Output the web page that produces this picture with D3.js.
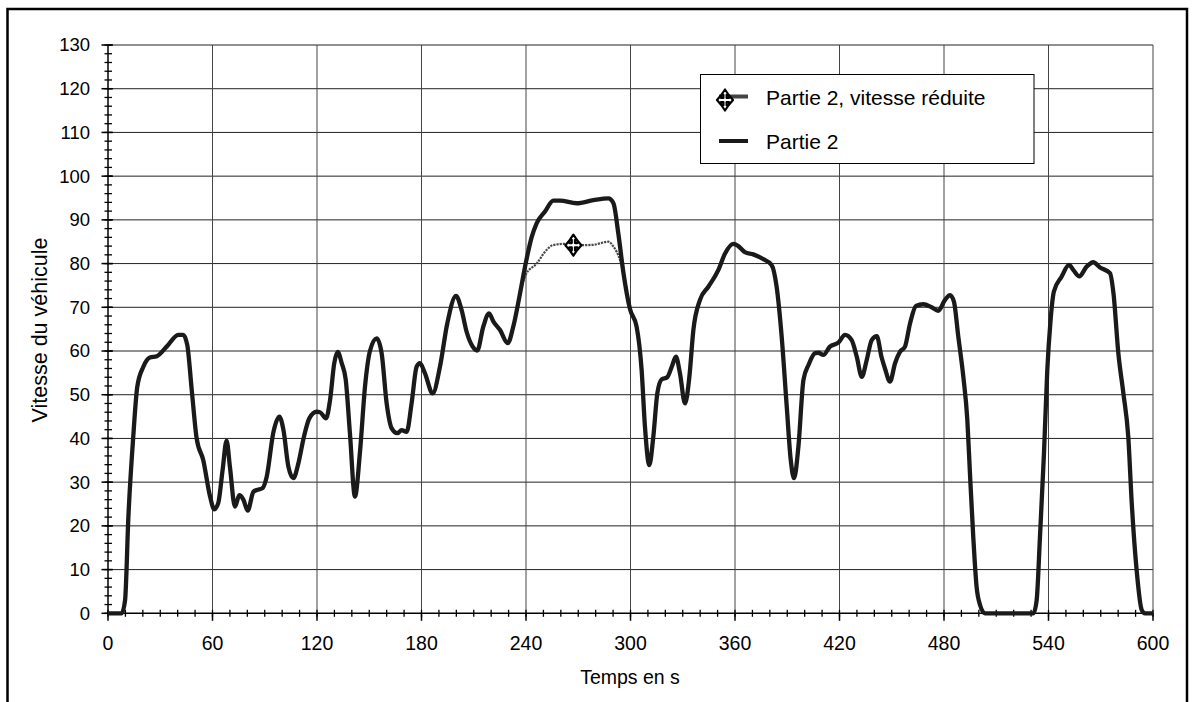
<!DOCTYPE html>
<html>
<head>
<meta charset="utf-8">
<script src="https://cdn.jsdelivr.net/npm/d3@7"></script>
<style>
  body { margin: 0; background: #fff; }
  svg { display: block; font-family: "Liberation Sans", Arial, sans-serif; }
</style>
</head>
<body>
<div id="chart"></div>
<script>
// temps (s) et vitesse (km/h) - Partie 2
var time = [0, 7.8, 9.8, 11.7, 14.5, 16.8, 20.3, 24.1, 28, 33.7, 40.4, 43.2, 45.5, 48.1, 50.9, 54.7, 58.6, 61, 63.3, 65.8,
  68.1, 70, 72.9, 75.4, 77.7, 80.2, 83.5, 85.4, 88.6, 91.1, 95, 98.4, 100.7, 103.6, 106.4, 109.3, 112.5, 115.6, 119.8, 121.7,
  125.2, 127.5, 129.9, 131.9, 134.2, 136.5, 138.9, 141.8, 144.7, 147.6, 150.4, 154.3, 157.1, 160, 162.9, 166.1, 168.6, 171.5, 174.3, 177.2,
  179.1, 182, 186.4, 190.6, 194.8, 199.8, 203, 205.9, 209.4, 212, 215.5, 218.8, 221.3, 225.1, 229.5, 232.7, 236.2, 239.8, 243.3, 246.1,
  250.9, 255.7, 259.5, 269.1, 278.7, 287.3, 290.2, 293, 295.9, 299.7, 303.5, 306.4, 308.3, 310.8, 313.1, 315.4, 317.9, 321.1, 323.7, 326.1,
  328.4, 331.3, 333.8, 336.1, 339.9, 344.7, 350.4, 354.3, 359, 361.9, 365.7, 370.5, 376.3, 381, 383.9, 386.8, 389.7, 392, 393.9, 396.4,
  399.3, 402.2, 406, 407.9, 410.7, 414.5, 419.3, 423.2, 427, 429.9, 432.8, 435.6, 438.5, 441.4, 444.2, 446.1, 449, 451.9, 454.7, 457.6,
  460.5, 463.9, 468.1, 472.9, 476.7, 480.6, 483.4, 485.7, 488.2, 491.1, 493.4, 494.9, 496.8, 498.7, 500.7, 503.5, 531.3, 533.2, 535.1, 537.4,
  539.3, 541.2, 543.1, 547.5, 551.8, 554.3, 557.7, 561.9, 565.7, 569.6, 575.3, 577.3, 580.1, 583, 585.8, 587.8, 590.6, 593.5, 595.4, 600]
var speed = [0, 0, 3, 22, 40.4, 51.8, 56.4, 58.5, 58.8, 61, 63.7, 63.7, 61.4, 51, 40, 35, 26.7, 23.8, 25.2, 32.8,
  39.5, 33.5, 24.4, 27, 26, 23.5, 27.8, 28.2, 28.6, 31.2, 41.5, 45, 42, 33.5, 30.9, 34.3, 40.4, 44.6, 46.1, 46,
  44.6, 48.8, 57.2, 59.8, 57.2, 53.4, 41.2, 26.7, 37, 52, 60, 62.9, 59.5, 48, 42.3, 41.2, 41.9, 41.5, 48, 56.4,
  57.2, 54.9, 50.3, 56.4, 66.3, 72.6, 69.4, 64.4, 61, 60.1, 65.6, 68.6, 66.7, 64.8, 61.8, 65.6, 72.4, 80, 86.1, 89.2,
  91.9, 94.4, 94.4, 93.8, 94.5, 94.9, 93.8, 86.9, 78, 69.6, 65.6, 55.6, 42.7, 33.9, 40.4, 50.3, 53.5, 54, 56.4, 58.7,
  54.9, 48, 54.1, 64.8, 71.7, 74.7, 78.5, 82.3, 84.5, 84, 82.6, 82.1, 81, 79.7, 74.7, 63.3, 47.3, 35.1, 30.9, 38.1,
  53.4, 56.8, 59.5, 59.6, 59.1, 61, 61.9, 63.7, 62.5, 58.7, 54.1, 57.9, 62.5, 63.4, 58.5, 56, 53, 57.2, 59.8, 61,
  66.3, 70.3, 70.7, 70, 69.2, 71.7, 72.8, 71.3, 63.3, 54.1, 44.2, 32, 17.5, 6.1, 1.9, 0, 0, 3, 17.5, 36.6,
  55.6, 67.1, 73.6, 77, 79.7, 78.5, 77.1, 79.3, 80.3, 79.1, 77.8, 73.2, 59.5, 50.3, 40.4, 25.2, 9.9, 0.8, 0, 0]

// Partie 2, vitesse réduite (seule la partie qui diffère)
var reducedTime = [236.2, 239.8, 246.1, 251.8, 255.3, 262, 267.2, 271.8, 278.7, 287.3, 290.2, 294, 295.9]
var reducedSpeed = [72.4, 77.4, 80, 83.1, 84.2, 84.5, 84.2, 84.2, 84.3, 85, 83.9, 80.8, 78]
var markerIndex = [6]

var xTicks = [0, 60, 120, 180, 240, 300, 360, 420, 480, 540, 600]
var yTicks = [0, 10, 20, 30, 40, 50, 60, 70, 80, 90, 100, 110, 120, 130]
var legendLabels = ["Partie 2, vitesse réduite", "Partie 2"]

var W = 1192, H = 702
var plot = { left: 108, right: 1153, top: 45, bottom: 613.3 }

var svg = d3.select("#chart").append("svg")
  .attr("width", W).attr("height", H)

// cadre extérieur
svg.append("rect")
  .attr("x", 7.5).attr("y", 9).attr("width", 1179.5).attr("height", 720)
  .attr("fill", "none").attr("stroke", "#000").attr("stroke-width", 2.5)

var x = d3.scaleLinear().domain([0, 600]).range([plot.left, plot.right])
var y = d3.scaleLinear().domain([0, 130]).range([plot.bottom, plot.top])

// grille
svg.append("g").selectAll("line")
  .data(yTicks.filter(function(d) { return d > 0 }))
  .enter().append("line")
  .attr("x1", plot.left).attr("x2", plot.right)
  .attr("y1", function(d) { return y(d) }).attr("y2", function(d) { return y(d) })
  .attr("stroke", "#222").attr("stroke-width", 1)

svg.append("g").selectAll("line")
  .data(xTicks.filter(function(d) { return d > 0 }))
  .enter().append("line")
  .attr("y1", plot.top).attr("y2", plot.bottom)
  .attr("x1", function(d) { return x(d) }).attr("x2", function(d) { return x(d) })
  .attr("stroke", "#444").attr("stroke-width", 1)

// axes
var yAxis = svg.append("g")
  .attr("transform", "translate(" + plot.left + ",0)")
yAxis.append("line")
  .attr("x1", 0).attr("x2", 0).attr("y1", plot.top).attr("y2", plot.bottom)
  .attr("stroke", "#000").attr("stroke-width", 1.5)
yAxis.selectAll(".minor")
  .data(d3.range(0, 131, 2))
  .enter().append("line")
  .attr("x1", -3.5).attr("x2", 4)
  .attr("y1", function(d) { return y(d) }).attr("y2", function(d) { return y(d) })
  .attr("stroke", "#000").attr("stroke-width", 1.3)
yAxis.selectAll(".major")
  .data(yTicks)
  .enter().append("line")
  .attr("x1", -6.5).attr("x2", 5)
  .attr("y1", function(d) { return y(d) }).attr("y2", function(d) { return y(d) })
  .attr("stroke", "#000").attr("stroke-width", 1.5)
yAxis.selectAll("text")
  .data(yTicks)
  .enter().append("text")
  .attr("x", -18).attr("y", function(d) { return y(d) })
  .attr("dy", "0.35em")
  .attr("text-anchor", "end")
  .attr("font-size", 18.5)
  .text(function(d) { return d })

var xAxis = svg.append("g")
  .attr("transform", "translate(0," + plot.bottom + ")")
xAxis.append("line")
  .attr("x1", plot.left).attr("x2", plot.right)
  .attr("stroke", "#000").attr("stroke-width", 1.5)
xAxis.selectAll(".minor")
  .data(d3.range(0, 601, 10))
  .enter().append("line")
  .attr("x1", function(d) { return x(d) }).attr("x2", function(d) { return x(d) })
  .attr("y1", -3.5).attr("y2", 3.5)
  .attr("stroke", "#000").attr("stroke-width", 1.3)
xAxis.selectAll(".major")
  .data(xTicks)
  .enter().append("line")
  .attr("x1", function(d) { return x(d) }).attr("x2", function(d) { return x(d) })
  .attr("y1", 0).attr("y2", 7.5)
  .attr("stroke", "#000").attr("stroke-width", 1.5)
xAxis.selectAll("text")
  .data(xTicks)
  .enter().append("text")
  .attr("x", function(d) { return x(d) }).attr("y", 37)
  .attr("text-anchor", "middle")
  .attr("font-size", 19.5)
  .text(function(d) { return d })

// titres
svg.append("text")
  .attr("x", 630).attr("y", 684)
  .attr("text-anchor", "middle").attr("font-size", 19.5)
  .text("Temps en s")
svg.append("text")
  .attr("transform", "translate(47,330) rotate(-90)")
  .attr("text-anchor", "middle").attr("font-size", 21.5)
  .text("Vitesse du véhicule")

// courbes
var line = d3.line()
  .x(function(d) { return x(d[0]) })
  .y(function(d) { return y(d[1]) })
  .curve(d3.curveMonotoneX)

var reduced = reducedTime.map(function(t, i) { return [t, reducedSpeed[i]] })
var main = time.map(function(t, i) { return [t, speed[i]] })

svg.append("path")
  .datum(reduced)
  .attr("d", line)
  .attr("fill", "none").attr("stroke", "#4a4a4a")
  .attr("stroke-width", 2.2).attr("stroke-dasharray", "2.2,1")

svg.append("path")
  .datum(main)
  .attr("d", line)
  .attr("fill", "none").attr("stroke", "#1a1a1a")
  .attr("stroke-width", 4.3).attr("stroke-linejoin", "round")

// marqueur en croix fléchée
var arrowCross = "M0,-1L0.45,-0.5L0.2,-0.5L0.2,-0.2L0.5,-0.2L0.5,-0.45L1,0L0.5,0.45L0.5,0.2L0.2,0.2" +
  "L0.2,0.5L0.45,0.5L0,1L-0.45,0.5L-0.2,0.5L-0.2,0.2L-0.5,0.2L-0.5,0.45L-1,0L-0.5,-0.45L-0.5,-0.2" +
  "L-0.2,-0.2L-0.2,-0.5L-0.45,-0.5Z"

function drawMarker(g, cx, cy) {
  g.append("path")
    .attr("d", arrowCross)
    .attr("transform", "translate(" + cx + "," + cy + ") scale(8,10.5)")
    .attr("fill", "#fff").attr("stroke", "#000")
    .attr("vector-effect", "non-scaling-stroke")
    .attr("stroke-width", 2.2).attr("stroke-linejoin", "round")
}

markerIndex.forEach(function(i) {
  drawMarker(svg, x(reducedTime[i]), y(reducedSpeed[i]))
})

// légende
var legend = svg.append("g")
legend.append("rect")
  .attr("x", 700.5).attr("y", 74.5).attr("width", 333.5).attr("height", 89)
  .attr("fill", "#fff").attr("stroke", "#000").attr("stroke-width", 1)

legend.append("line")
  .attr("x1", 719).attr("x2", 748).attr("y1", 96.5).attr("y2", 96.5)
  .attr("stroke", "#444").attr("stroke-width", 4)
drawMarker(legend, 725, 100)
legend.append("line")
  .attr("x1", 719).attr("x2", 748).attr("y1", 141).attr("y2", 141)
  .attr("stroke", "#1a1a1a").attr("stroke-width", 4)

legend.selectAll("text")
  .data(legendLabels)
  .enter().append("text")
  .attr("x", 766).attr("y", function(d, i) { return 105 + i * 44.3 })
  .attr("font-size", 21)
  .text(function(d) { return d })
</script>
</body>
</html>
